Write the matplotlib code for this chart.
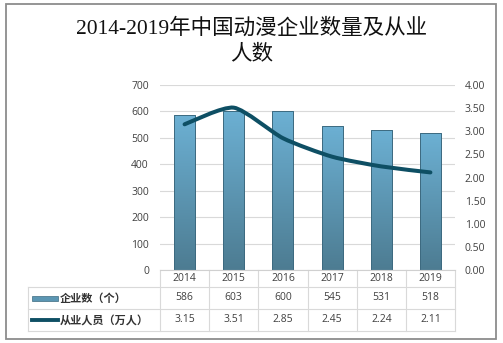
import matplotlib.pyplot as plt
import numpy as np
from matplotlib.path import Path
from matplotlib.patches import PathPatch, Rectangle
from matplotlib.lines import Line2D
from matplotlib.transforms import blended_transform_factory
from matplotlib.colors import LinearSegmentedColormap

years = ["2014", "2015", "2016", "2017", "2018", "2019"]
companies = [586, 603, 600, 545, 531, 518]
employees = [3.15, 3.51, 2.85, 2.45, 2.24, 2.11]
bar_label = "企业数（个）"
line_label = "从业人员（万人）"
title = "2014-2019年中国动漫企业数量及从业\n人数"

plt.rcParams['font.family'] = ['Open Sans', 'Noto Sans CJK SC', 'DejaVu Sans']
W, H = 503, 343
fig = plt.figure(figsize=(W / 100, H / 100), dpi=100)
fig.patch.set_facecolor('white')

# outer frame
fig.add_artist(Rectangle((5.5 / W, 1 - 338.5 / H), 490 / W, 335 / H,
                         transform=fig.transFigure, fill=False,
                         edgecolor='#8c8c8c', lw=1.3))

fig.text(0.5, 1 - 41 / H, title, ha='center', va='center', fontsize=15.5,
         family=['Liberation Serif', 'Noto Sans CJK SC'], weight='medium',
         linespacing=1.4, color='#111111')

ax = fig.add_axes([160 / W, 1 - 270 / H, 295 / W, 185 / H])
x = np.arange(len(years))
ax.set_xlim(-0.5, len(years) - 0.5)
ax.set_ylim(0, 700)
ax.set_yticks(range(0, 701, 100))
ax.yaxis.grid(True, color='#d9d9d9', lw=0.8)
ax.set_axisbelow(True)
for s in ['left', 'right', 'top']:
    ax.spines[s].set_visible(False)
ax.spines['bottom'].set_color('#d0d0d0')
ax.set_xticks([])
ax.tick_params(axis='y', length=0, pad=8, labelsize=7.5, labelcolor='#404040')

# bars with vertical gradient
cmap = LinearSegmentedColormap.from_list('g', ['#4d7c92', '#6cb0d3'])
grad = np.linspace(0, 1, 100).reshape(-1, 1)
bars = ax.bar(x, companies, width=0.43, facecolor='none',
              edgecolor='#3d6a80', lw=0.7, zorder=2)
for b in bars:
    im = ax.imshow(grad, cmap=cmap, origin='lower', aspect='auto',
                   extent=(b.get_x(), b.get_x() + b.get_width(), 0, b.get_height()),
                   zorder=1.5)
    im.set_clip_path(b)
ax.set_xlim(-0.5, len(years) - 0.5)
ax.set_ylim(0, 700)

# smoothed line on secondary axis
ax2 = ax.twinx()
ax2.set_ylim(0, 4)
ax2.set_yticks(np.arange(0, 4.01, 0.5))
ax2.set_yticklabels([f"{v:.2f}" for v in np.arange(0, 4.01, 0.5)])
ax2.tick_params(axis='y', length=0, pad=7, labelsize=7.5, labelcolor='#404040')
for s in ax2.spines.values():
    s.set_visible(False)
pts = np.column_stack([x, employees]).astype(float)
verts = [pts[0]]
codes = [Path.MOVETO]
k = 9.0
for i in range(len(pts) - 1):
    p0 = pts[i - 1] if i > 0 else pts[i]
    p3 = pts[i + 2] if i + 2 < len(pts) else pts[i + 1]
    c1 = pts[i] + (pts[i + 1] - p0) / k
    c2 = pts[i + 1] - (p3 - pts[i]) / k
    verts += [c1, c2, pts[i + 1]]
    codes += [Path.CURVE4] * 3
ax2.add_patch(PathPatch(Path(verts, codes), fill=False, edgecolor='#0e4f64',
                        lw=2.9, capstyle='round', joinstyle='round', zorder=3))
ax2.set_xlim(-0.5, len(years) - 0.5)

# data table below
tr = blended_transform_factory(ax.transData, ax.transAxes)
ah = 185.0
ys = [0, -17 / ah, -39 / ah, -61 / ah]
xl = -0.5 - 132 / (295 / 6)
gc = '#d9d9d9'
for yy in ys[1:]:
    ax.add_line(Line2D([xl, 5.5], [yy, yy], transform=tr, color=gc, lw=0.8, clip_on=False))
ax.add_line(Line2D([xl, xl], [ys[1], ys[3]], transform=tr, color=gc, lw=0.8, clip_on=False))
for xv in np.arange(-0.5, 6, 1):
    ax.add_line(Line2D([xv, xv], [0, ys[3]], transform=tr, color=gc, lw=0.8, clip_on=False))
for i, yr in enumerate(years):
    ax.text(i, (ys[0] + ys[1]) / 2, yr, transform=tr, ha='center', va='center',
            fontsize=7.5, color='#404040')
    ax.text(i, (ys[1] + ys[2]) / 2, str(companies[i]), transform=tr, ha='center',
            va='center', fontsize=7.5, color='#404040')
    ax.text(i, (ys[2] + ys[3]) / 2, f"{employees[i]:.2f}", transform=tr,
            ha='center', va='center', fontsize=7.5, color='#404040')

# legend keys in row header cells
sw = 26 / (295 / 6)
x0 = xl + 4 / (295 / 6)
ym1 = (ys[1] + ys[2]) / 2
ax.add_patch(Rectangle((x0, ym1 - 2.5 / ah), sw, 5 / ah, transform=tr,
                       facecolor='#5b96b3', edgecolor='#3d6a80', lw=0.5, clip_on=False))
ym2 = (ys[2] + ys[3]) / 2
ax.add_line(Line2D([x0, x0 + sw], [ym2, ym2], transform=tr, color='#0e4f64',
                   lw=2.8, clip_on=False))
ax.text(x0 + sw + 0.03, ym1, bar_label, transform=tr, ha='left', va='center',
        fontsize=8, color='#333333', family=['Noto Sans CJK SC'], weight='bold')
ax.text(x0 + sw + 0.03, ym2, line_label, transform=tr, ha='left', va='center',
        fontsize=8, color='#333333', family=['Noto Sans CJK SC'], weight='bold')

fig.savefig('out.png', dpi=100)
